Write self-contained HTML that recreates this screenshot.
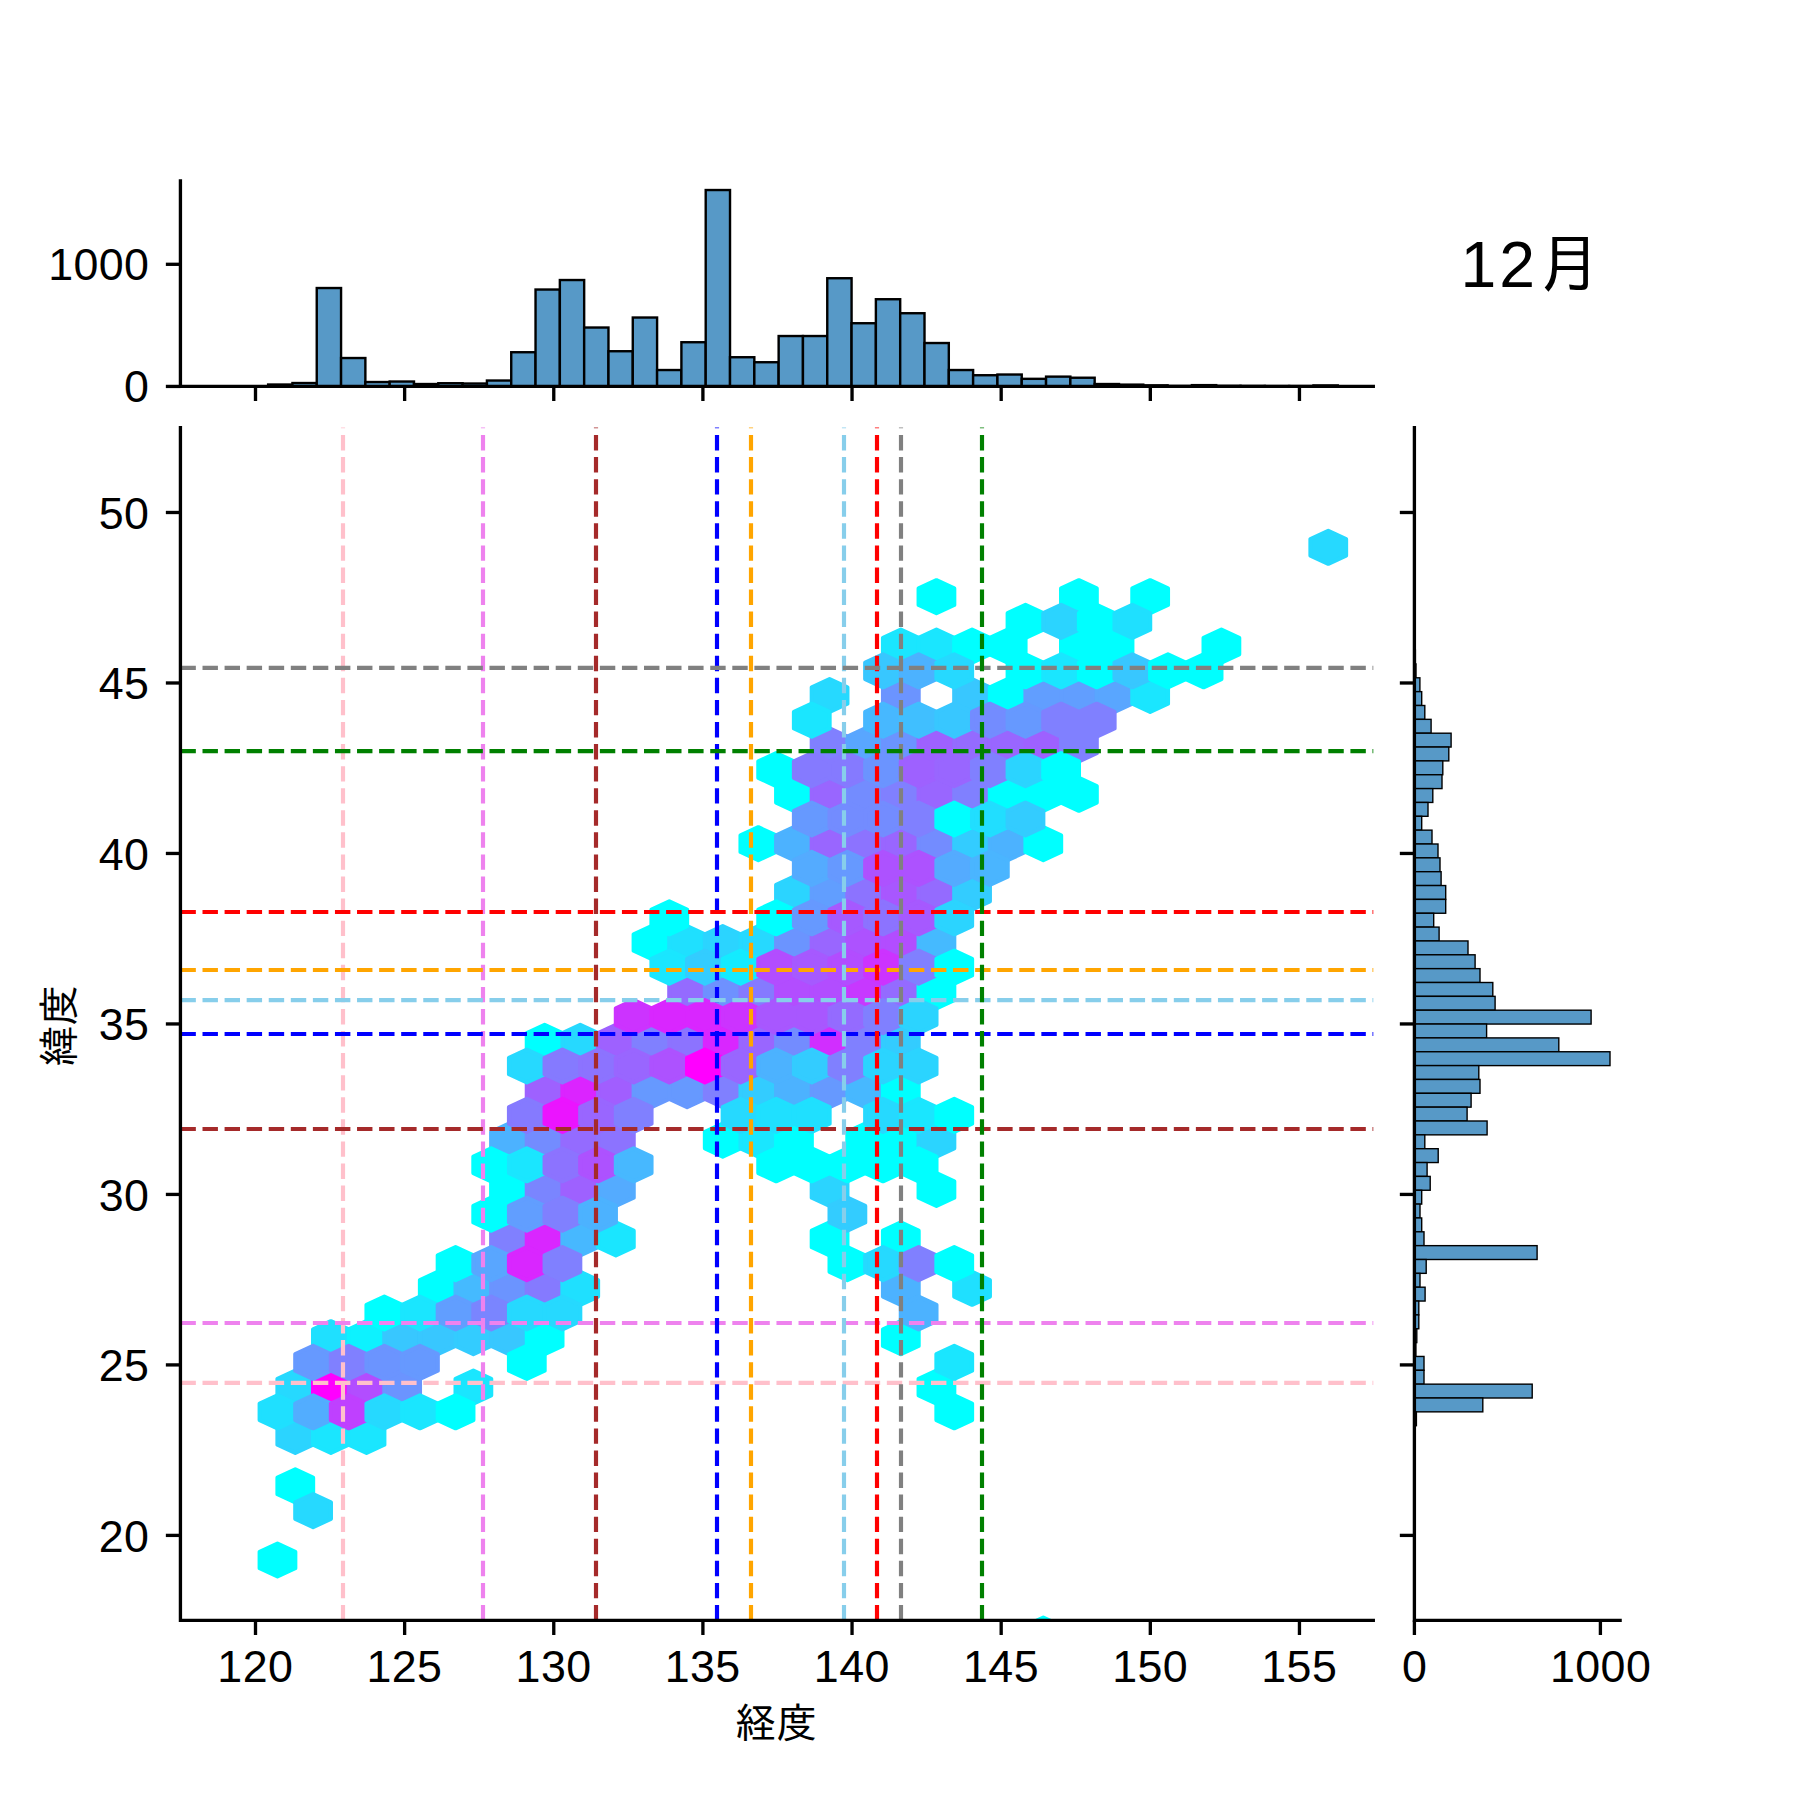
<!DOCTYPE html>
<html lang="ja"><head><meta charset="utf-8"><title>12月</title>
<style>html,body{margin:0;padding:0;background:#fff}svg{display:block}</style></head>
<body>
<svg width="1800" height="1800" viewBox="0 0 1800 1800">
<g fill="#5799c7" stroke="#000" stroke-width="2.40" stroke-linejoin="miter">
<rect x="268.13" y="384.53" width="24.31" height="1.90"/>
<rect x="292.44" y="383.03" width="24.31" height="3.40"/>
<rect x="316.75" y="288.03" width="24.31" height="98.40"/>
<rect x="341.06" y="358.03" width="24.31" height="28.40"/>
<rect x="365.37" y="382.03" width="24.31" height="4.40"/>
<rect x="389.68" y="381.53" width="24.31" height="4.90"/>
<rect x="413.99" y="384.03" width="24.31" height="2.40"/>
<rect x="438.30" y="383.23" width="24.31" height="3.20"/>
<rect x="462.61" y="383.53" width="24.31" height="2.90"/>
<rect x="486.92" y="380.53" width="24.31" height="5.90"/>
<rect x="511.23" y="352.23" width="24.31" height="34.20"/>
<rect x="535.54" y="289.53" width="24.31" height="96.90"/>
<rect x="559.85" y="280.03" width="24.31" height="106.40"/>
<rect x="584.16" y="327.53" width="24.31" height="58.90"/>
<rect x="608.47" y="351.23" width="24.31" height="35.20"/>
<rect x="632.78" y="317.53" width="24.31" height="68.90"/>
<rect x="657.09" y="370.03" width="24.31" height="16.40"/>
<rect x="681.40" y="342.23" width="24.31" height="44.20"/>
<rect x="705.71" y="190.03" width="24.31" height="196.40"/>
<rect x="730.02" y="357.23" width="24.31" height="29.20"/>
<rect x="754.33" y="362.23" width="24.31" height="24.20"/>
<rect x="778.64" y="336.03" width="24.31" height="50.40"/>
<rect x="802.95" y="336.03" width="24.31" height="50.40"/>
<rect x="827.26" y="278.23" width="24.31" height="108.20"/>
<rect x="851.57" y="323.23" width="24.31" height="63.20"/>
<rect x="875.88" y="299.23" width="24.31" height="87.20"/>
<rect x="900.19" y="313.23" width="24.31" height="73.20"/>
<rect x="924.50" y="343.03" width="24.31" height="43.40"/>
<rect x="948.81" y="370.03" width="24.31" height="16.40"/>
<rect x="973.12" y="375.23" width="24.31" height="11.20"/>
<rect x="997.43" y="374.53" width="24.31" height="11.90"/>
<rect x="1021.74" y="378.83" width="24.31" height="7.60"/>
<rect x="1046.05" y="376.63" width="24.31" height="9.80"/>
<rect x="1070.36" y="377.73" width="24.31" height="8.70"/>
<rect x="1094.67" y="384.03" width="24.31" height="2.40"/>
<rect x="1118.98" y="384.63" width="24.31" height="1.80"/>
<rect x="1143.29" y="385.33" width="24.31" height="1.10"/>
<rect x="1167.60" y="385.93" width="24.31" height="0.50"/>
<rect x="1191.91" y="385.13" width="24.31" height="1.30"/>
<rect x="1216.22" y="385.83" width="24.31" height="0.60"/>
<rect x="1240.53" y="385.93" width="24.31" height="0.50"/>
<rect x="1264.84" y="386.03" width="24.31" height="0.40"/>
<rect x="1289.15" y="386.03" width="24.31" height="0.40"/>
<rect x="1313.46" y="385.43" width="24.31" height="1.00"/>
</g>
<g fill="#5799c7" stroke="#000" stroke-width="1.40" stroke-linejoin="miter">
<rect x="1414.40" y="650.10" width="1.00" height="13.85"/>
<rect x="1414.40" y="663.95" width="1.60" height="13.85"/>
<rect x="1414.40" y="677.80" width="5.50" height="13.85"/>
<rect x="1414.40" y="691.65" width="7.30" height="13.85"/>
<rect x="1414.40" y="705.50" width="10.40" height="13.85"/>
<rect x="1414.40" y="719.35" width="16.70" height="13.85"/>
<rect x="1414.40" y="733.20" width="36.70" height="13.85"/>
<rect x="1414.40" y="747.05" width="34.40" height="13.85"/>
<rect x="1414.40" y="760.90" width="28.40" height="13.85"/>
<rect x="1414.40" y="774.75" width="27.60" height="13.85"/>
<rect x="1414.40" y="788.60" width="18.40" height="13.85"/>
<rect x="1414.40" y="802.45" width="13.60" height="13.85"/>
<rect x="1414.40" y="816.30" width="7.30" height="13.85"/>
<rect x="1414.40" y="830.15" width="17.60" height="13.85"/>
<rect x="1414.40" y="844.00" width="23.60" height="13.85"/>
<rect x="1414.40" y="857.85" width="25.60" height="13.85"/>
<rect x="1414.40" y="871.70" width="26.70" height="13.85"/>
<rect x="1414.40" y="885.55" width="31.30" height="13.85"/>
<rect x="1414.40" y="899.40" width="31.30" height="13.85"/>
<rect x="1414.40" y="913.25" width="19.30" height="13.85"/>
<rect x="1414.40" y="927.10" width="24.70" height="13.85"/>
<rect x="1414.40" y="940.95" width="53.60" height="13.85"/>
<rect x="1414.40" y="954.80" width="60.70" height="13.85"/>
<rect x="1414.40" y="968.65" width="65.60" height="13.85"/>
<rect x="1414.40" y="982.50" width="78.40" height="13.85"/>
<rect x="1414.40" y="996.35" width="80.70" height="13.85"/>
<rect x="1414.40" y="1010.20" width="176.70" height="13.85"/>
<rect x="1414.40" y="1024.05" width="72.20" height="13.85"/>
<rect x="1414.40" y="1037.90" width="144.40" height="13.85"/>
<rect x="1414.40" y="1051.75" width="195.60" height="13.85"/>
<rect x="1414.40" y="1065.60" width="64.40" height="13.85"/>
<rect x="1414.40" y="1079.45" width="65.60" height="13.85"/>
<rect x="1414.40" y="1093.30" width="56.70" height="13.85"/>
<rect x="1414.40" y="1107.15" width="52.70" height="13.85"/>
<rect x="1414.40" y="1121.00" width="72.70" height="13.85"/>
<rect x="1414.40" y="1134.85" width="10.40" height="13.85"/>
<rect x="1414.40" y="1148.70" width="23.80" height="13.85"/>
<rect x="1414.40" y="1162.55" width="12.70" height="13.85"/>
<rect x="1414.40" y="1176.40" width="15.80" height="13.85"/>
<rect x="1414.40" y="1190.25" width="7.30" height="13.85"/>
<rect x="1414.40" y="1204.10" width="5.60" height="13.85"/>
<rect x="1414.40" y="1217.95" width="7.30" height="13.85"/>
<rect x="1414.40" y="1231.80" width="9.60" height="13.85"/>
<rect x="1414.40" y="1245.65" width="122.70" height="13.85"/>
<rect x="1414.40" y="1259.50" width="11.80" height="13.85"/>
<rect x="1414.40" y="1273.35" width="5.60" height="13.85"/>
<rect x="1414.40" y="1287.20" width="10.70" height="13.85"/>
<rect x="1414.40" y="1301.05" width="4.40" height="13.85"/>
<rect x="1414.40" y="1314.90" width="4.40" height="13.85"/>
<rect x="1414.40" y="1328.75" width="2.40" height="13.85"/>
<rect x="1414.40" y="1342.60" width="1.50" height="13.85"/>
<rect x="1414.40" y="1356.45" width="9.60" height="13.85"/>
<rect x="1414.40" y="1370.30" width="9.60" height="13.85"/>
<rect x="1414.40" y="1384.15" width="117.80" height="13.85"/>
<rect x="1414.40" y="1398.00" width="68.40" height="13.85"/>
<rect x="1414.40" y="1411.85" width="2.00" height="13.85"/>
</g>
<defs><clipPath id="mc"><rect x="180.43" y="427.57" width="1192.87" height="1192.83"/></clipPath>
</defs>
<g clip-path="url(#mc)" stroke-width="4.17" stroke-linejoin="round">
<polygon points="295.28,1469.43 313.09,1477.67 313.09,1494.13 295.28,1502.37 277.47,1494.13 277.47,1477.67" fill="#00ffff" stroke="#00ffff"/>
<polygon points="295.28,1420.03 313.09,1428.27 313.09,1444.73 295.28,1452.97 277.47,1444.73 277.47,1428.27" fill="#2bd4ff" stroke="#2bd4ff"/>
<polygon points="295.28,1370.63 313.09,1378.87 313.09,1395.33 295.28,1403.57 277.47,1395.33 277.47,1378.87" fill="#26d9ff" stroke="#26d9ff"/>
<polygon points="330.90,1420.03 348.71,1428.27 348.71,1444.73 330.90,1452.97 313.09,1444.73 313.09,1428.27" fill="#1ae6ff" stroke="#1ae6ff"/>
<polygon points="330.90,1370.63 348.71,1378.87 348.71,1395.33 330.90,1403.57 313.09,1395.33 313.09,1378.87" fill="#ff00ff" stroke="#ff00ff"/>
<polygon points="330.90,1321.23 348.71,1329.47 348.71,1345.93 330.90,1354.17 313.09,1345.93 313.09,1329.47" fill="#1fe0ff" stroke="#1fe0ff"/>
<polygon points="366.52,1420.03 384.33,1428.27 384.33,1444.73 366.52,1452.97 348.71,1444.73 348.71,1428.27" fill="#1ae6ff" stroke="#1ae6ff"/>
<polygon points="366.52,1370.63 384.33,1378.87 384.33,1395.33 366.52,1403.57 348.71,1395.33 348.71,1378.87" fill="#b24dff" stroke="#b24dff"/>
<polygon points="366.52,1321.23 384.33,1329.47 384.33,1345.93 366.52,1354.17 348.71,1345.93 348.71,1329.47" fill="#0df2ff" stroke="#0df2ff"/>
<polygon points="402.14,1370.63 419.95,1378.87 419.95,1395.33 402.14,1403.57 384.33,1395.33 384.33,1378.87" fill="#6b94ff" stroke="#6b94ff"/>
<polygon points="402.14,1321.23 419.95,1329.47 419.95,1345.93 402.14,1354.17 384.33,1345.93 384.33,1329.47" fill="#38c7ff" stroke="#38c7ff"/>
<polygon points="437.76,1321.23 455.57,1329.47 455.57,1345.93 437.76,1354.17 419.95,1345.93 419.95,1329.47" fill="#38c7ff" stroke="#38c7ff"/>
<polygon points="437.76,1271.83 455.57,1280.07 455.57,1296.53 437.76,1304.77 419.95,1296.53 419.95,1280.07" fill="#00ffff" stroke="#00ffff"/>
<polygon points="473.38,1370.63 491.19,1378.87 491.19,1395.33 473.38,1403.57 455.57,1395.33 455.57,1378.87" fill="#1ae6ff" stroke="#1ae6ff"/>
<polygon points="473.38,1321.23 491.19,1329.47 491.19,1345.93 473.38,1354.17 455.57,1345.93 455.57,1329.47" fill="#33ccff" stroke="#33ccff"/>
<polygon points="473.38,1271.83 491.19,1280.07 491.19,1296.53 473.38,1304.77 455.57,1296.53 455.57,1280.07" fill="#45baff" stroke="#45baff"/>
<polygon points="509.00,1321.23 526.81,1329.47 526.81,1345.93 509.00,1354.17 491.19,1345.93 491.19,1329.47" fill="#38c7ff" stroke="#38c7ff"/>
<polygon points="509.00,1271.83 526.81,1280.07 526.81,1296.53 509.00,1304.77 491.19,1296.53 491.19,1280.07" fill="#6b94ff" stroke="#6b94ff"/>
<polygon points="509.00,1222.43 526.81,1230.67 526.81,1247.13 509.00,1255.37 491.19,1247.13 491.19,1230.67" fill="#8080ff" stroke="#8080ff"/>
<polygon points="509.00,1173.03 526.81,1181.27 526.81,1197.73 509.00,1205.97 491.19,1197.73 491.19,1181.27" fill="#00ffff" stroke="#00ffff"/>
<polygon points="509.00,1123.63 526.81,1131.87 526.81,1148.33 509.00,1156.57 491.19,1148.33 491.19,1131.87" fill="#4cb2ff" stroke="#4cb2ff"/>
<polygon points="544.62,1321.23 562.43,1329.47 562.43,1345.93 544.62,1354.17 526.81,1345.93 526.81,1329.47" fill="#00ffff" stroke="#00ffff"/>
<polygon points="544.62,1271.83 562.43,1280.07 562.43,1296.53 544.62,1304.77 526.81,1296.53 526.81,1280.07" fill="#857aff" stroke="#857aff"/>
<polygon points="544.62,1222.43 562.43,1230.67 562.43,1247.13 544.62,1255.37 526.81,1247.13 526.81,1230.67" fill="#d926ff" stroke="#d926ff"/>
<polygon points="544.62,1173.03 562.43,1181.27 562.43,1197.73 544.62,1205.97 526.81,1197.73 526.81,1181.27" fill="#7a85ff" stroke="#7a85ff"/>
<polygon points="544.62,1123.63 562.43,1131.87 562.43,1148.33 544.62,1156.57 526.81,1148.33 526.81,1131.87" fill="#738cff" stroke="#738cff"/>
<polygon points="544.62,1074.23 562.43,1082.47 562.43,1098.93 544.62,1107.17 526.81,1098.93 526.81,1082.47" fill="#9e61ff" stroke="#9e61ff"/>
<polygon points="544.62,1024.83 562.43,1033.07 562.43,1049.53 544.62,1057.77 526.81,1049.53 526.81,1033.07" fill="#00ffff" stroke="#00ffff"/>
<polygon points="580.24,1271.83 598.05,1280.07 598.05,1296.53 580.24,1304.77 562.43,1296.53 562.43,1280.07" fill="#1fe0ff" stroke="#1fe0ff"/>
<polygon points="580.24,1222.43 598.05,1230.67 598.05,1247.13 580.24,1255.37 562.43,1247.13 562.43,1230.67" fill="#47b8ff" stroke="#47b8ff"/>
<polygon points="580.24,1173.03 598.05,1181.27 598.05,1197.73 580.24,1205.97 562.43,1197.73 562.43,1181.27" fill="#9e61ff" stroke="#9e61ff"/>
<polygon points="580.24,1123.63 598.05,1131.87 598.05,1148.33 580.24,1156.57 562.43,1148.33 562.43,1131.87" fill="#946bff" stroke="#946bff"/>
<polygon points="580.24,1074.23 598.05,1082.47 598.05,1098.93 580.24,1107.17 562.43,1098.93 562.43,1082.47" fill="#db24ff" stroke="#db24ff"/>
<polygon points="580.24,1024.83 598.05,1033.07 598.05,1049.53 580.24,1057.77 562.43,1049.53 562.43,1033.07" fill="#26d9ff" stroke="#26d9ff"/>
<polygon points="615.86,1222.43 633.67,1230.67 633.67,1247.13 615.86,1255.37 598.05,1247.13 598.05,1230.67" fill="#1ae6ff" stroke="#1ae6ff"/>
<polygon points="615.86,1173.03 633.67,1181.27 633.67,1197.73 615.86,1205.97 598.05,1197.73 598.05,1181.27" fill="#54abff" stroke="#54abff"/>
<polygon points="615.86,1123.63 633.67,1131.87 633.67,1148.33 615.86,1156.57 598.05,1148.33 598.05,1131.87" fill="#8c73ff" stroke="#8c73ff"/>
<polygon points="615.86,1074.23 633.67,1082.47 633.67,1098.93 615.86,1107.17 598.05,1098.93 598.05,1082.47" fill="#a15eff" stroke="#a15eff"/>
<polygon points="615.86,1024.83 633.67,1033.07 633.67,1049.53 615.86,1057.77 598.05,1049.53 598.05,1033.07" fill="#9e61ff" stroke="#9e61ff"/>
<polygon points="651.48,1074.23 669.29,1082.47 669.29,1098.93 651.48,1107.17 633.67,1098.93 633.67,1082.47" fill="#6699ff" stroke="#6699ff"/>
<polygon points="651.48,1024.83 669.29,1033.07 669.29,1049.53 651.48,1057.77 633.67,1049.53 633.67,1033.07" fill="#8080ff" stroke="#8080ff"/>
<polygon points="651.48,926.03 669.29,934.27 669.29,950.73 651.48,958.97 633.67,950.73 633.67,934.27" fill="#00ffff" stroke="#00ffff"/>
<polygon points="687.10,1074.23 704.91,1082.47 704.91,1098.93 687.10,1107.17 669.29,1098.93 669.29,1082.47" fill="#6699ff" stroke="#6699ff"/>
<polygon points="687.10,1024.83 704.91,1033.07 704.91,1049.53 687.10,1057.77 669.29,1049.53 669.29,1033.07" fill="#8c73ff" stroke="#8c73ff"/>
<polygon points="687.10,975.43 704.91,983.67 704.91,1000.13 687.10,1008.37 669.29,1000.13 669.29,983.67" fill="#946bff" stroke="#946bff"/>
<polygon points="687.10,926.03 704.91,934.27 704.91,950.73 687.10,958.97 669.29,950.73 669.29,934.27" fill="#1fe0ff" stroke="#1fe0ff"/>
<polygon points="722.72,1123.63 740.53,1131.87 740.53,1148.33 722.72,1156.57 704.91,1148.33 704.91,1131.87" fill="#00ffff" stroke="#00ffff"/>
<polygon points="722.72,1074.23 740.53,1082.47 740.53,1098.93 722.72,1107.17 704.91,1098.93 704.91,1082.47" fill="#8080ff" stroke="#8080ff"/>
<polygon points="722.72,1024.83 740.53,1033.07 740.53,1049.53 722.72,1057.77 704.91,1049.53 704.91,1033.07" fill="#d926ff" stroke="#d926ff"/>
<polygon points="722.72,975.43 740.53,983.67 740.53,1000.13 722.72,1008.37 704.91,1000.13 704.91,983.67" fill="#6e91ff" stroke="#6e91ff"/>
<polygon points="722.72,926.03 740.53,934.27 740.53,950.73 722.72,958.97 704.91,950.73 704.91,934.27" fill="#2bd4ff" stroke="#2bd4ff"/>
<polygon points="758.34,1123.63 776.15,1131.87 776.15,1148.33 758.34,1156.57 740.53,1148.33 740.53,1131.87" fill="#1ae6ff" stroke="#1ae6ff"/>
<polygon points="758.34,1074.23 776.15,1082.47 776.15,1098.93 758.34,1107.17 740.53,1098.93 740.53,1082.47" fill="#33ccff" stroke="#33ccff"/>
<polygon points="758.34,1024.83 776.15,1033.07 776.15,1049.53 758.34,1057.77 740.53,1049.53 740.53,1033.07" fill="#9966ff" stroke="#9966ff"/>
<polygon points="758.34,975.43 776.15,983.67 776.15,1000.13 758.34,1008.37 740.53,1000.13 740.53,983.67" fill="#857aff" stroke="#857aff"/>
<polygon points="758.34,926.03 776.15,934.27 776.15,950.73 758.34,958.97 740.53,950.73 740.53,934.27" fill="#26d9ff" stroke="#26d9ff"/>
<polygon points="758.34,827.23 776.15,835.47 776.15,851.93 758.34,860.17 740.53,851.93 740.53,835.47" fill="#00ffff" stroke="#00ffff"/>
<polygon points="793.96,1123.63 811.77,1131.87 811.77,1148.33 793.96,1156.57 776.15,1148.33 776.15,1131.87" fill="#00ffff" stroke="#00ffff"/>
<polygon points="793.96,1074.23 811.77,1082.47 811.77,1098.93 793.96,1107.17 776.15,1098.93 776.15,1082.47" fill="#4cb2ff" stroke="#4cb2ff"/>
<polygon points="793.96,1024.83 811.77,1033.07 811.77,1049.53 793.96,1057.77 776.15,1049.53 776.15,1033.07" fill="#738cff" stroke="#738cff"/>
<polygon points="793.96,975.43 811.77,983.67 811.77,1000.13 793.96,1008.37 776.15,1000.13 776.15,983.67" fill="#b24dff" stroke="#b24dff"/>
<polygon points="793.96,926.03 811.77,934.27 811.77,950.73 793.96,958.97 776.15,950.73 776.15,934.27" fill="#6b94ff" stroke="#6b94ff"/>
<polygon points="793.96,876.63 811.77,884.87 811.77,901.33 793.96,909.57 776.15,901.33 776.15,884.87" fill="#2bd4ff" stroke="#2bd4ff"/>
<polygon points="793.96,827.23 811.77,835.47 811.77,851.93 793.96,860.17 776.15,851.93 776.15,835.47" fill="#4cb2ff" stroke="#4cb2ff"/>
<polygon points="793.96,777.83 811.77,786.07 811.77,802.53 793.96,810.77 776.15,802.53 776.15,786.07" fill="#00ffff" stroke="#00ffff"/>
<polygon points="829.58,1222.43 847.39,1230.67 847.39,1247.13 829.58,1255.37 811.77,1247.13 811.77,1230.67" fill="#00ffff" stroke="#00ffff"/>
<polygon points="829.58,1173.03 847.39,1181.27 847.39,1197.73 829.58,1205.97 811.77,1197.73 811.77,1181.27" fill="#2bd4ff" stroke="#2bd4ff"/>
<polygon points="829.58,1074.23 847.39,1082.47 847.39,1098.93 829.58,1107.17 811.77,1098.93 811.77,1082.47" fill="#6699ff" stroke="#6699ff"/>
<polygon points="829.58,1024.83 847.39,1033.07 847.39,1049.53 829.58,1057.77 811.77,1049.53 811.77,1033.07" fill="#d12eff" stroke="#d12eff"/>
<polygon points="829.58,975.43 847.39,983.67 847.39,1000.13 829.58,1008.37 811.77,1000.13 811.77,983.67" fill="#b24dff" stroke="#b24dff"/>
<polygon points="829.58,926.03 847.39,934.27 847.39,950.73 829.58,958.97 811.77,950.73 811.77,934.27" fill="#9966ff" stroke="#9966ff"/>
<polygon points="829.58,876.63 847.39,884.87 847.39,901.33 829.58,909.57 811.77,901.33 811.77,884.87" fill="#619eff" stroke="#619eff"/>
<polygon points="829.58,827.23 847.39,835.47 847.39,851.93 829.58,860.17 811.77,851.93 811.77,835.47" fill="#9966ff" stroke="#9966ff"/>
<polygon points="829.58,777.83 847.39,786.07 847.39,802.53 829.58,810.77 811.77,802.53 811.77,786.07" fill="#9966ff" stroke="#9966ff"/>
<polygon points="829.58,728.43 847.39,736.67 847.39,753.13 829.58,761.37 811.77,753.13 811.77,736.67" fill="#8080ff" stroke="#8080ff"/>
<polygon points="829.58,679.03 847.39,687.27 847.39,703.73 829.58,711.97 811.77,703.73 811.77,687.27" fill="#26d9ff" stroke="#26d9ff"/>
<polygon points="865.20,1123.63 883.01,1131.87 883.01,1148.33 865.20,1156.57 847.39,1148.33 847.39,1131.87" fill="#00ffff" stroke="#00ffff"/>
<polygon points="865.20,1074.23 883.01,1082.47 883.01,1098.93 865.20,1107.17 847.39,1098.93 847.39,1082.47" fill="#47b8ff" stroke="#47b8ff"/>
<polygon points="865.20,1024.83 883.01,1033.07 883.01,1049.53 865.20,1057.77 847.39,1049.53 847.39,1033.07" fill="#8080ff" stroke="#8080ff"/>
<polygon points="865.20,975.43 883.01,983.67 883.01,1000.13 865.20,1008.37 847.39,1000.13 847.39,983.67" fill="#c738ff" stroke="#c738ff"/>
<polygon points="865.20,926.03 883.01,934.27 883.01,950.73 865.20,958.97 847.39,950.73 847.39,934.27" fill="#ad52ff" stroke="#ad52ff"/>
<polygon points="865.20,876.63 883.01,884.87 883.01,901.33 865.20,909.57 847.39,901.33 847.39,884.87" fill="#8c73ff" stroke="#8c73ff"/>
<polygon points="865.20,827.23 883.01,835.47 883.01,851.93 865.20,860.17 847.39,851.93 847.39,835.47" fill="#8c73ff" stroke="#8c73ff"/>
<polygon points="865.20,777.83 883.01,786.07 883.01,802.53 865.20,810.77 847.39,802.53 847.39,786.07" fill="#738cff" stroke="#738cff"/>
<polygon points="865.20,728.43 883.01,736.67 883.01,753.13 865.20,761.37 847.39,753.13 847.39,736.67" fill="#59a6ff" stroke="#59a6ff"/>
<polygon points="900.82,1321.23 918.63,1329.47 918.63,1345.93 900.82,1354.17 883.01,1345.93 883.01,1329.47" fill="#00ffff" stroke="#00ffff"/>
<polygon points="900.82,1271.83 918.63,1280.07 918.63,1296.53 900.82,1304.77 883.01,1296.53 883.01,1280.07" fill="#4cb2ff" stroke="#4cb2ff"/>
<polygon points="900.82,1222.43 918.63,1230.67 918.63,1247.13 900.82,1255.37 883.01,1247.13 883.01,1230.67" fill="#00ffff" stroke="#00ffff"/>
<polygon points="900.82,1123.63 918.63,1131.87 918.63,1148.33 900.82,1156.57 883.01,1148.33 883.01,1131.87" fill="#00ffff" stroke="#00ffff"/>
<polygon points="900.82,1074.23 918.63,1082.47 918.63,1098.93 900.82,1107.17 883.01,1098.93 883.01,1082.47" fill="#00ffff" stroke="#00ffff"/>
<polygon points="900.82,1024.83 918.63,1033.07 918.63,1049.53 900.82,1057.77 883.01,1049.53 883.01,1033.07" fill="#33ccff" stroke="#33ccff"/>
<polygon points="900.82,975.43 918.63,983.67 918.63,1000.13 900.82,1008.37 883.01,1000.13 883.01,983.67" fill="#946bff" stroke="#946bff"/>
<polygon points="900.82,926.03 918.63,934.27 918.63,950.73 900.82,958.97 883.01,950.73 883.01,934.27" fill="#b24dff" stroke="#b24dff"/>
<polygon points="900.82,876.63 918.63,884.87 918.63,901.33 900.82,909.57 883.01,901.33 883.01,884.87" fill="#a857ff" stroke="#a857ff"/>
<polygon points="900.82,827.23 918.63,835.47 918.63,851.93 900.82,860.17 883.01,851.93 883.01,835.47" fill="#9966ff" stroke="#9966ff"/>
<polygon points="900.82,777.83 918.63,786.07 918.63,802.53 900.82,810.77 883.01,802.53 883.01,786.07" fill="#8080ff" stroke="#8080ff"/>
<polygon points="900.82,728.43 918.63,736.67 918.63,753.13 900.82,761.37 883.01,753.13 883.01,736.67" fill="#6b94ff" stroke="#6b94ff"/>
<polygon points="900.82,679.03 918.63,687.27 918.63,703.73 900.82,711.97 883.01,703.73 883.01,687.27" fill="#6b94ff" stroke="#6b94ff"/>
<polygon points="900.82,629.63 918.63,637.87 918.63,654.33 900.82,662.57 883.01,654.33 883.01,637.87" fill="#1ae6ff" stroke="#1ae6ff"/>
<polygon points="936.44,1370.63 954.25,1378.87 954.25,1395.33 936.44,1403.57 918.63,1395.33 918.63,1378.87" fill="#00ffff" stroke="#00ffff"/>
<polygon points="936.44,1173.03 954.25,1181.27 954.25,1197.73 936.44,1205.97 918.63,1197.73 918.63,1181.27" fill="#00ffff" stroke="#00ffff"/>
<polygon points="936.44,1123.63 954.25,1131.87 954.25,1148.33 936.44,1156.57 918.63,1148.33 918.63,1131.87" fill="#2bd4ff" stroke="#2bd4ff"/>
<polygon points="936.44,975.43 954.25,983.67 954.25,1000.13 936.44,1008.37 918.63,1000.13 918.63,983.67" fill="#00ffff" stroke="#00ffff"/>
<polygon points="936.44,926.03 954.25,934.27 954.25,950.73 936.44,958.97 918.63,950.73 918.63,934.27" fill="#45baff" stroke="#45baff"/>
<polygon points="936.44,876.63 954.25,884.87 954.25,901.33 936.44,909.57 918.63,901.33 918.63,884.87" fill="#946bff" stroke="#946bff"/>
<polygon points="936.44,827.23 954.25,835.47 954.25,851.93 936.44,860.17 918.63,851.93 918.63,835.47" fill="#738cff" stroke="#738cff"/>
<polygon points="936.44,777.83 954.25,786.07 954.25,802.53 936.44,810.77 918.63,802.53 918.63,786.07" fill="#9966ff" stroke="#9966ff"/>
<polygon points="936.44,728.43 954.25,736.67 954.25,753.13 936.44,761.37 918.63,753.13 918.63,736.67" fill="#9e61ff" stroke="#9e61ff"/>
<polygon points="936.44,629.63 954.25,637.87 954.25,654.33 936.44,662.57 918.63,654.33 918.63,637.87" fill="#1ae6ff" stroke="#1ae6ff"/>
<polygon points="936.44,580.23 954.25,588.47 954.25,604.93 936.44,613.17 918.63,604.93 918.63,588.47" fill="#00ffff" stroke="#00ffff"/>
<polygon points="972.06,1271.83 989.87,1280.07 989.87,1296.53 972.06,1304.77 954.25,1296.53 954.25,1280.07" fill="#1fe0ff" stroke="#1fe0ff"/>
<polygon points="972.06,876.63 989.87,884.87 989.87,901.33 972.06,909.57 954.25,901.33 954.25,884.87" fill="#33ccff" stroke="#33ccff"/>
<polygon points="972.06,827.23 989.87,835.47 989.87,851.93 972.06,860.17 954.25,851.93 954.25,835.47" fill="#33ccff" stroke="#33ccff"/>
<polygon points="972.06,777.83 989.87,786.07 989.87,802.53 972.06,810.77 954.25,802.53 954.25,786.07" fill="#8080ff" stroke="#8080ff"/>
<polygon points="972.06,728.43 989.87,736.67 989.87,753.13 972.06,761.37 954.25,753.13 954.25,736.67" fill="#946bff" stroke="#946bff"/>
<polygon points="972.06,679.03 989.87,687.27 989.87,703.73 972.06,711.97 954.25,703.73 954.25,687.27" fill="#38c7ff" stroke="#38c7ff"/>
<polygon points="972.06,629.63 989.87,637.87 989.87,654.33 972.06,662.57 954.25,654.33 954.25,637.87" fill="#00ffff" stroke="#00ffff"/>
<polygon points="1007.68,827.23 1025.49,835.47 1025.49,851.93 1007.68,860.17 989.87,851.93 989.87,835.47" fill="#4cb2ff" stroke="#4cb2ff"/>
<polygon points="1007.68,777.83 1025.49,786.07 1025.49,802.53 1007.68,810.77 989.87,802.53 989.87,786.07" fill="#00ffff" stroke="#00ffff"/>
<polygon points="1007.68,728.43 1025.49,736.67 1025.49,753.13 1007.68,761.37 989.87,753.13 989.87,736.67" fill="#9966ff" stroke="#9966ff"/>
<polygon points="1007.68,679.03 1025.49,687.27 1025.49,703.73 1007.68,711.97 989.87,703.73 989.87,687.27" fill="#00ffff" stroke="#00ffff"/>
<polygon points="1007.68,629.63 1025.49,637.87 1025.49,654.33 1007.68,662.57 989.87,654.33 989.87,637.87" fill="#00ffff" stroke="#00ffff"/>
<polygon points="1043.30,1617.63 1061.11,1625.87 1061.11,1642.33 1043.30,1650.57 1025.49,1642.33 1025.49,1625.87" fill="#00ffff" stroke="#00ffff"/>
<polygon points="1043.30,827.23 1061.11,835.47 1061.11,851.93 1043.30,860.17 1025.49,851.93 1025.49,835.47" fill="#00ffff" stroke="#00ffff"/>
<polygon points="1043.30,777.83 1061.11,786.07 1061.11,802.53 1043.30,810.77 1025.49,802.53 1025.49,786.07" fill="#00ffff" stroke="#00ffff"/>
<polygon points="1043.30,728.43 1061.11,736.67 1061.11,753.13 1043.30,761.37 1025.49,753.13 1025.49,736.67" fill="#9e61ff" stroke="#9e61ff"/>
<polygon points="1043.30,679.03 1061.11,687.27 1061.11,703.73 1043.30,711.97 1025.49,703.73 1025.49,687.27" fill="#619eff" stroke="#619eff"/>
<polygon points="1078.92,777.83 1096.73,786.07 1096.73,802.53 1078.92,810.77 1061.11,802.53 1061.11,786.07" fill="#00ffff" stroke="#00ffff"/>
<polygon points="1078.92,728.43 1096.73,736.67 1096.73,753.13 1078.92,761.37 1061.11,753.13 1061.11,736.67" fill="#8080ff" stroke="#8080ff"/>
<polygon points="1078.92,679.03 1096.73,687.27 1096.73,703.73 1078.92,711.97 1061.11,703.73 1061.11,687.27" fill="#619eff" stroke="#619eff"/>
<polygon points="1078.92,629.63 1096.73,637.87 1096.73,654.33 1078.92,662.57 1061.11,654.33 1061.11,637.87" fill="#00ffff" stroke="#00ffff"/>
<polygon points="1078.92,580.23 1096.73,588.47 1096.73,604.93 1078.92,613.17 1061.11,604.93 1061.11,588.47" fill="#00ffff" stroke="#00ffff"/>
<polygon points="1114.54,679.03 1132.35,687.27 1132.35,703.73 1114.54,711.97 1096.73,703.73 1096.73,687.27" fill="#59a6ff" stroke="#59a6ff"/>
<polygon points="1114.54,629.63 1132.35,637.87 1132.35,654.33 1114.54,662.57 1096.73,654.33 1096.73,637.87" fill="#00ffff" stroke="#00ffff"/>
<polygon points="1150.16,679.03 1167.97,687.27 1167.97,703.73 1150.16,711.97 1132.35,703.73 1132.35,687.27" fill="#1ae6ff" stroke="#1ae6ff"/>
<polygon points="1150.16,580.23 1167.97,588.47 1167.97,604.93 1150.16,613.17 1132.35,604.93 1132.35,588.47" fill="#00ffff" stroke="#00ffff"/>
<polygon points="1221.40,629.63 1239.21,637.87 1239.21,654.33 1221.40,662.57 1203.59,654.33 1203.59,637.87" fill="#00ffff" stroke="#00ffff"/>
<polygon points="1328.26,530.83 1346.07,539.07 1346.07,555.53 1328.26,563.77 1310.45,555.53 1310.45,539.07" fill="#26d9ff" stroke="#26d9ff"/>
<polygon points="277.47,1543.53 295.28,1551.77 295.28,1568.23 277.47,1576.47 259.66,1568.23 259.66,1551.77" fill="#00ffff" stroke="#00ffff"/>
<polygon points="277.47,1395.33 295.28,1403.57 295.28,1420.03 277.47,1428.27 259.66,1420.03 259.66,1403.57" fill="#1fe0ff" stroke="#1fe0ff"/>
<polygon points="313.09,1494.13 330.90,1502.37 330.90,1518.83 313.09,1527.07 295.28,1518.83 295.28,1502.37" fill="#26d9ff" stroke="#26d9ff"/>
<polygon points="313.09,1395.33 330.90,1403.57 330.90,1420.03 313.09,1428.27 295.28,1420.03 295.28,1403.57" fill="#52adff" stroke="#52adff"/>
<polygon points="313.09,1345.93 330.90,1354.17 330.90,1370.63 313.09,1378.87 295.28,1370.63 295.28,1354.17" fill="#6699ff" stroke="#6699ff"/>
<polygon points="348.71,1395.33 366.52,1403.57 366.52,1420.03 348.71,1428.27 330.90,1420.03 330.90,1403.57" fill="#bf40ff" stroke="#bf40ff"/>
<polygon points="348.71,1345.93 366.52,1354.17 366.52,1370.63 348.71,1378.87 330.90,1370.63 330.90,1354.17" fill="#8080ff" stroke="#8080ff"/>
<polygon points="384.33,1395.33 402.14,1403.57 402.14,1420.03 384.33,1428.27 366.52,1420.03 366.52,1403.57" fill="#26d9ff" stroke="#26d9ff"/>
<polygon points="384.33,1345.93 402.14,1354.17 402.14,1370.63 384.33,1378.87 366.52,1370.63 366.52,1354.17" fill="#6b94ff" stroke="#6b94ff"/>
<polygon points="384.33,1296.53 402.14,1304.77 402.14,1321.23 384.33,1329.47 366.52,1321.23 366.52,1304.77" fill="#00ffff" stroke="#00ffff"/>
<polygon points="419.95,1395.33 437.76,1403.57 437.76,1420.03 419.95,1428.27 402.14,1420.03 402.14,1403.57" fill="#1ae6ff" stroke="#1ae6ff"/>
<polygon points="419.95,1345.93 437.76,1354.17 437.76,1370.63 419.95,1378.87 402.14,1370.63 402.14,1354.17" fill="#6699ff" stroke="#6699ff"/>
<polygon points="419.95,1296.53 437.76,1304.77 437.76,1321.23 419.95,1329.47 402.14,1321.23 402.14,1304.77" fill="#1ae6ff" stroke="#1ae6ff"/>
<polygon points="455.57,1395.33 473.38,1403.57 473.38,1420.03 455.57,1428.27 437.76,1420.03 437.76,1403.57" fill="#00ffff" stroke="#00ffff"/>
<polygon points="455.57,1296.53 473.38,1304.77 473.38,1321.23 455.57,1329.47 437.76,1321.23 437.76,1304.77" fill="#619eff" stroke="#619eff"/>
<polygon points="455.57,1247.13 473.38,1255.37 473.38,1271.83 455.57,1280.07 437.76,1271.83 437.76,1255.37" fill="#00ffff" stroke="#00ffff"/>
<polygon points="491.19,1296.53 509.00,1304.77 509.00,1321.23 491.19,1329.47 473.38,1321.23 473.38,1304.77" fill="#7a85ff" stroke="#7a85ff"/>
<polygon points="491.19,1247.13 509.00,1255.37 509.00,1271.83 491.19,1280.07 473.38,1271.83 473.38,1255.37" fill="#59a6ff" stroke="#59a6ff"/>
<polygon points="491.19,1197.73 509.00,1205.97 509.00,1222.43 491.19,1230.67 473.38,1222.43 473.38,1205.97" fill="#00ffff" stroke="#00ffff"/>
<polygon points="491.19,1148.33 509.00,1156.57 509.00,1173.03 491.19,1181.27 473.38,1173.03 473.38,1156.57" fill="#00ffff" stroke="#00ffff"/>
<polygon points="526.81,1345.93 544.62,1354.17 544.62,1370.63 526.81,1378.87 509.00,1370.63 509.00,1354.17" fill="#00ffff" stroke="#00ffff"/>
<polygon points="526.81,1296.53 544.62,1304.77 544.62,1321.23 526.81,1329.47 509.00,1321.23 509.00,1304.77" fill="#26d9ff" stroke="#26d9ff"/>
<polygon points="526.81,1247.13 544.62,1255.37 544.62,1271.83 526.81,1280.07 509.00,1271.83 509.00,1255.37" fill="#d926ff" stroke="#d926ff"/>
<polygon points="526.81,1197.73 544.62,1205.97 544.62,1222.43 526.81,1230.67 509.00,1222.43 509.00,1205.97" fill="#619eff" stroke="#619eff"/>
<polygon points="526.81,1148.33 544.62,1156.57 544.62,1173.03 526.81,1181.27 509.00,1173.03 509.00,1156.57" fill="#1ae6ff" stroke="#1ae6ff"/>
<polygon points="526.81,1098.93 544.62,1107.17 544.62,1123.63 526.81,1131.87 509.00,1123.63 509.00,1107.17" fill="#857aff" stroke="#857aff"/>
<polygon points="526.81,1049.53 544.62,1057.77 544.62,1074.23 526.81,1082.47 509.00,1074.23 509.00,1057.77" fill="#26d9ff" stroke="#26d9ff"/>
<polygon points="562.43,1296.53 580.24,1304.77 580.24,1321.23 562.43,1329.47 544.62,1321.23 544.62,1304.77" fill="#26d9ff" stroke="#26d9ff"/>
<polygon points="562.43,1247.13 580.24,1255.37 580.24,1271.83 562.43,1280.07 544.62,1271.83 544.62,1255.37" fill="#8080ff" stroke="#8080ff"/>
<polygon points="562.43,1197.73 580.24,1205.97 580.24,1222.43 562.43,1230.67 544.62,1222.43 544.62,1205.97" fill="#8080ff" stroke="#8080ff"/>
<polygon points="562.43,1148.33 580.24,1156.57 580.24,1173.03 562.43,1181.27 544.62,1173.03 544.62,1156.57" fill="#8c73ff" stroke="#8c73ff"/>
<polygon points="562.43,1098.93 580.24,1107.17 580.24,1123.63 562.43,1131.87 544.62,1123.63 544.62,1107.17" fill="#eb14ff" stroke="#eb14ff"/>
<polygon points="562.43,1049.53 580.24,1057.77 580.24,1074.23 562.43,1082.47 544.62,1074.23 544.62,1057.77" fill="#857aff" stroke="#857aff"/>
<polygon points="598.05,1197.73 615.86,1205.97 615.86,1222.43 598.05,1230.67 580.24,1222.43 580.24,1205.97" fill="#4cb2ff" stroke="#4cb2ff"/>
<polygon points="598.05,1148.33 615.86,1156.57 615.86,1173.03 598.05,1181.27 580.24,1173.03 580.24,1156.57" fill="#ad52ff" stroke="#ad52ff"/>
<polygon points="598.05,1098.93 615.86,1107.17 615.86,1123.63 598.05,1131.87 580.24,1123.63 580.24,1107.17" fill="#9966ff" stroke="#9966ff"/>
<polygon points="598.05,1049.53 615.86,1057.77 615.86,1074.23 598.05,1082.47 580.24,1074.23 580.24,1057.77" fill="#8c73ff" stroke="#8c73ff"/>
<polygon points="633.67,1148.33 651.48,1156.57 651.48,1173.03 633.67,1181.27 615.86,1173.03 615.86,1156.57" fill="#47b8ff" stroke="#47b8ff"/>
<polygon points="633.67,1098.93 651.48,1107.17 651.48,1123.63 633.67,1131.87 615.86,1123.63 615.86,1107.17" fill="#8080ff" stroke="#8080ff"/>
<polygon points="633.67,1049.53 651.48,1057.77 651.48,1074.23 633.67,1082.47 615.86,1074.23 615.86,1057.77" fill="#9966ff" stroke="#9966ff"/>
<polygon points="633.67,1000.13 651.48,1008.37 651.48,1024.83 633.67,1033.07 615.86,1024.83 615.86,1008.37" fill="#cc33ff" stroke="#cc33ff"/>
<polygon points="669.29,1049.53 687.10,1057.77 687.10,1074.23 669.29,1082.47 651.48,1074.23 651.48,1057.77" fill="#ad52ff" stroke="#ad52ff"/>
<polygon points="669.29,1000.13 687.10,1008.37 687.10,1024.83 669.29,1033.07 651.48,1024.83 651.48,1008.37" fill="#d926ff" stroke="#d926ff"/>
<polygon points="669.29,950.73 687.10,958.97 687.10,975.43 669.29,983.67 651.48,975.43 651.48,958.97" fill="#1ae6ff" stroke="#1ae6ff"/>
<polygon points="669.29,901.33 687.10,909.57 687.10,926.03 669.29,934.27 651.48,926.03 651.48,909.57" fill="#00ffff" stroke="#00ffff"/>
<polygon points="704.91,1049.53 722.72,1057.77 722.72,1074.23 704.91,1082.47 687.10,1074.23 687.10,1057.77" fill="#ff00ff" stroke="#ff00ff"/>
<polygon points="704.91,1000.13 722.72,1008.37 722.72,1024.83 704.91,1033.07 687.10,1024.83 687.10,1008.37" fill="#d926ff" stroke="#d926ff"/>
<polygon points="704.91,950.73 722.72,958.97 722.72,975.43 704.91,983.67 687.10,975.43 687.10,958.97" fill="#33ccff" stroke="#33ccff"/>
<polygon points="740.53,1098.93 758.34,1107.17 758.34,1123.63 740.53,1131.87 722.72,1123.63 722.72,1107.17" fill="#26d9ff" stroke="#26d9ff"/>
<polygon points="740.53,1049.53 758.34,1057.77 758.34,1074.23 740.53,1082.47 722.72,1074.23 722.72,1057.77" fill="#9966ff" stroke="#9966ff"/>
<polygon points="740.53,1000.13 758.34,1008.37 758.34,1024.83 740.53,1033.07 722.72,1024.83 722.72,1008.37" fill="#cc33ff" stroke="#cc33ff"/>
<polygon points="740.53,950.73 758.34,958.97 758.34,975.43 740.53,983.67 722.72,975.43 722.72,958.97" fill="#14ebff" stroke="#14ebff"/>
<polygon points="776.15,1148.33 793.96,1156.57 793.96,1173.03 776.15,1181.27 758.34,1173.03 758.34,1156.57" fill="#00ffff" stroke="#00ffff"/>
<polygon points="776.15,1098.93 793.96,1107.17 793.96,1123.63 776.15,1131.87 758.34,1123.63 758.34,1107.17" fill="#1fe0ff" stroke="#1fe0ff"/>
<polygon points="776.15,1049.53 793.96,1057.77 793.96,1074.23 776.15,1082.47 758.34,1074.23 758.34,1057.77" fill="#4cb2ff" stroke="#4cb2ff"/>
<polygon points="776.15,1000.13 793.96,1008.37 793.96,1024.83 776.15,1033.07 758.34,1024.83 758.34,1008.37" fill="#a857ff" stroke="#a857ff"/>
<polygon points="776.15,950.73 793.96,958.97 793.96,975.43 776.15,983.67 758.34,975.43 758.34,958.97" fill="#b24dff" stroke="#b24dff"/>
<polygon points="776.15,901.33 793.96,909.57 793.96,926.03 776.15,934.27 758.34,926.03 758.34,909.57" fill="#00ffff" stroke="#00ffff"/>
<polygon points="776.15,753.13 793.96,761.37 793.96,777.83 776.15,786.07 758.34,777.83 758.34,761.37" fill="#00ffff" stroke="#00ffff"/>
<polygon points="811.77,1148.33 829.58,1156.57 829.58,1173.03 811.77,1181.27 793.96,1173.03 793.96,1156.57" fill="#00ffff" stroke="#00ffff"/>
<polygon points="811.77,1098.93 829.58,1107.17 829.58,1123.63 811.77,1131.87 793.96,1123.63 793.96,1107.17" fill="#1fe0ff" stroke="#1fe0ff"/>
<polygon points="811.77,1049.53 829.58,1057.77 829.58,1074.23 811.77,1082.47 793.96,1074.23 793.96,1057.77" fill="#33ccff" stroke="#33ccff"/>
<polygon points="811.77,1000.13 829.58,1008.37 829.58,1024.83 811.77,1033.07 793.96,1024.83 793.96,1008.37" fill="#a857ff" stroke="#a857ff"/>
<polygon points="811.77,950.73 829.58,958.97 829.58,975.43 811.77,983.67 793.96,975.43 793.96,958.97" fill="#a659ff" stroke="#a659ff"/>
<polygon points="811.77,901.33 829.58,909.57 829.58,926.03 811.77,934.27 793.96,926.03 793.96,909.57" fill="#6699ff" stroke="#6699ff"/>
<polygon points="811.77,851.93 829.58,860.17 829.58,876.63 811.77,884.87 793.96,876.63 793.96,860.17" fill="#54abff" stroke="#54abff"/>
<polygon points="811.77,802.53 829.58,810.77 829.58,827.23 811.77,835.47 793.96,827.23 793.96,810.77" fill="#6699ff" stroke="#6699ff"/>
<polygon points="811.77,753.13 829.58,761.37 829.58,777.83 811.77,786.07 793.96,777.83 793.96,761.37" fill="#857aff" stroke="#857aff"/>
<polygon points="811.77,703.73 829.58,711.97 829.58,728.43 811.77,736.67 793.96,728.43 793.96,711.97" fill="#1ae6ff" stroke="#1ae6ff"/>
<polygon points="847.39,1247.13 865.20,1255.37 865.20,1271.83 847.39,1280.07 829.58,1271.83 829.58,1255.37" fill="#00ffff" stroke="#00ffff"/>
<polygon points="847.39,1197.73 865.20,1205.97 865.20,1222.43 847.39,1230.67 829.58,1222.43 829.58,1205.97" fill="#33ccff" stroke="#33ccff"/>
<polygon points="847.39,1148.33 865.20,1156.57 865.20,1173.03 847.39,1181.27 829.58,1173.03 829.58,1156.57" fill="#00ffff" stroke="#00ffff"/>
<polygon points="847.39,1049.53 865.20,1057.77 865.20,1074.23 847.39,1082.47 829.58,1074.23 829.58,1057.77" fill="#8080ff" stroke="#8080ff"/>
<polygon points="847.39,1000.13 865.20,1008.37 865.20,1024.83 847.39,1033.07 829.58,1024.83 829.58,1008.37" fill="#946bff" stroke="#946bff"/>
<polygon points="847.39,950.73 865.20,958.97 865.20,975.43 847.39,983.67 829.58,975.43 829.58,958.97" fill="#b24dff" stroke="#b24dff"/>
<polygon points="847.39,901.33 865.20,909.57 865.20,926.03 847.39,934.27 829.58,926.03 829.58,909.57" fill="#a659ff" stroke="#a659ff"/>
<polygon points="847.39,851.93 865.20,860.17 865.20,876.63 847.39,884.87 829.58,876.63 829.58,860.17" fill="#6699ff" stroke="#6699ff"/>
<polygon points="847.39,802.53 865.20,810.77 865.20,827.23 847.39,835.47 829.58,827.23 829.58,810.77" fill="#738cff" stroke="#738cff"/>
<polygon points="847.39,753.13 865.20,761.37 865.20,777.83 847.39,786.07 829.58,777.83 829.58,761.37" fill="#857aff" stroke="#857aff"/>
<polygon points="883.01,1247.13 900.82,1255.37 900.82,1271.83 883.01,1280.07 865.20,1271.83 865.20,1255.37" fill="#26d9ff" stroke="#26d9ff"/>
<polygon points="883.01,1148.33 900.82,1156.57 900.82,1173.03 883.01,1181.27 865.20,1173.03 865.20,1156.57" fill="#00ffff" stroke="#00ffff"/>
<polygon points="883.01,1098.93 900.82,1107.17 900.82,1123.63 883.01,1131.87 865.20,1123.63 865.20,1107.17" fill="#26d9ff" stroke="#26d9ff"/>
<polygon points="883.01,1049.53 900.82,1057.77 900.82,1074.23 883.01,1082.47 865.20,1074.23 865.20,1057.77" fill="#2bd4ff" stroke="#2bd4ff"/>
<polygon points="883.01,1000.13 900.82,1008.37 900.82,1024.83 883.01,1033.07 865.20,1024.83 865.20,1008.37" fill="#8080ff" stroke="#8080ff"/>
<polygon points="883.01,950.73 900.82,958.97 900.82,975.43 883.01,983.67 865.20,975.43 865.20,958.97" fill="#cc33ff" stroke="#cc33ff"/>
<polygon points="883.01,901.33 900.82,909.57 900.82,926.03 883.01,934.27 865.20,926.03 865.20,909.57" fill="#8c73ff" stroke="#8c73ff"/>
<polygon points="883.01,851.93 900.82,860.17 900.82,876.63 883.01,884.87 865.20,876.63 865.20,860.17" fill="#ad52ff" stroke="#ad52ff"/>
<polygon points="883.01,802.53 900.82,810.77 900.82,827.23 883.01,835.47 865.20,827.23 865.20,810.77" fill="#738cff" stroke="#738cff"/>
<polygon points="883.01,753.13 900.82,761.37 900.82,777.83 883.01,786.07 865.20,777.83 865.20,761.37" fill="#6b94ff" stroke="#6b94ff"/>
<polygon points="883.01,703.73 900.82,711.97 900.82,728.43 883.01,736.67 865.20,728.43 865.20,711.97" fill="#47b8ff" stroke="#47b8ff"/>
<polygon points="883.01,654.33 900.82,662.57 900.82,679.03 883.01,687.27 865.20,679.03 865.20,662.57" fill="#38c7ff" stroke="#38c7ff"/>
<polygon points="918.63,1296.53 936.44,1304.77 936.44,1321.23 918.63,1329.47 900.82,1321.23 900.82,1304.77" fill="#4cb2ff" stroke="#4cb2ff"/>
<polygon points="918.63,1247.13 936.44,1255.37 936.44,1271.83 918.63,1280.07 900.82,1271.83 900.82,1255.37" fill="#8080ff" stroke="#8080ff"/>
<polygon points="918.63,1148.33 936.44,1156.57 936.44,1173.03 918.63,1181.27 900.82,1173.03 900.82,1156.57" fill="#00ffff" stroke="#00ffff"/>
<polygon points="918.63,1098.93 936.44,1107.17 936.44,1123.63 918.63,1131.87 900.82,1123.63 900.82,1107.17" fill="#1ae6ff" stroke="#1ae6ff"/>
<polygon points="918.63,1049.53 936.44,1057.77 936.44,1074.23 918.63,1082.47 900.82,1074.23 900.82,1057.77" fill="#2bd4ff" stroke="#2bd4ff"/>
<polygon points="918.63,1000.13 936.44,1008.37 936.44,1024.83 918.63,1033.07 900.82,1024.83 900.82,1008.37" fill="#2bd4ff" stroke="#2bd4ff"/>
<polygon points="918.63,950.73 936.44,958.97 936.44,975.43 918.63,983.67 900.82,975.43 900.82,958.97" fill="#8080ff" stroke="#8080ff"/>
<polygon points="918.63,901.33 936.44,909.57 936.44,926.03 918.63,934.27 900.82,926.03 900.82,909.57" fill="#a659ff" stroke="#a659ff"/>
<polygon points="918.63,851.93 936.44,860.17 936.44,876.63 918.63,884.87 900.82,876.63 900.82,860.17" fill="#ad52ff" stroke="#ad52ff"/>
<polygon points="918.63,802.53 936.44,810.77 936.44,827.23 918.63,835.47 900.82,827.23 900.82,810.77" fill="#8080ff" stroke="#8080ff"/>
<polygon points="918.63,753.13 936.44,761.37 936.44,777.83 918.63,786.07 900.82,777.83 900.82,761.37" fill="#9e61ff" stroke="#9e61ff"/>
<polygon points="918.63,703.73 936.44,711.97 936.44,728.43 918.63,736.67 900.82,728.43 900.82,711.97" fill="#40bfff" stroke="#40bfff"/>
<polygon points="918.63,654.33 936.44,662.57 936.44,679.03 918.63,687.27 900.82,679.03 900.82,662.57" fill="#4cb2ff" stroke="#4cb2ff"/>
<polygon points="954.25,1395.33 972.06,1403.57 972.06,1420.03 954.25,1428.27 936.44,1420.03 936.44,1403.57" fill="#00ffff" stroke="#00ffff"/>
<polygon points="954.25,1345.93 972.06,1354.17 972.06,1370.63 954.25,1378.87 936.44,1370.63 936.44,1354.17" fill="#1ae6ff" stroke="#1ae6ff"/>
<polygon points="954.25,1247.13 972.06,1255.37 972.06,1271.83 954.25,1280.07 936.44,1271.83 936.44,1255.37" fill="#00ffff" stroke="#00ffff"/>
<polygon points="954.25,1098.93 972.06,1107.17 972.06,1123.63 954.25,1131.87 936.44,1123.63 936.44,1107.17" fill="#00ffff" stroke="#00ffff"/>
<polygon points="954.25,950.73 972.06,958.97 972.06,975.43 954.25,983.67 936.44,975.43 936.44,958.97" fill="#00ffff" stroke="#00ffff"/>
<polygon points="954.25,901.33 972.06,909.57 972.06,926.03 954.25,934.27 936.44,926.03 936.44,909.57" fill="#2bd4ff" stroke="#2bd4ff"/>
<polygon points="954.25,851.93 972.06,860.17 972.06,876.63 954.25,884.87 936.44,876.63 936.44,860.17" fill="#54abff" stroke="#54abff"/>
<polygon points="954.25,802.53 972.06,810.77 972.06,827.23 954.25,835.47 936.44,827.23 936.44,810.77" fill="#00ffff" stroke="#00ffff"/>
<polygon points="954.25,753.13 972.06,761.37 972.06,777.83 954.25,786.07 936.44,777.83 936.44,761.37" fill="#9966ff" stroke="#9966ff"/>
<polygon points="954.25,703.73 972.06,711.97 972.06,728.43 954.25,736.67 936.44,728.43 936.44,711.97" fill="#38c7ff" stroke="#38c7ff"/>
<polygon points="954.25,654.33 972.06,662.57 972.06,679.03 954.25,687.27 936.44,679.03 936.44,662.57" fill="#26d9ff" stroke="#26d9ff"/>
<polygon points="989.87,851.93 1007.68,860.17 1007.68,876.63 989.87,884.87 972.06,876.63 972.06,860.17" fill="#4ab5ff" stroke="#4ab5ff"/>
<polygon points="989.87,802.53 1007.68,810.77 1007.68,827.23 989.87,835.47 972.06,827.23 972.06,810.77" fill="#21deff" stroke="#21deff"/>
<polygon points="989.87,753.13 1007.68,761.37 1007.68,777.83 989.87,786.07 972.06,777.83 972.06,761.37" fill="#8080ff" stroke="#8080ff"/>
<polygon points="989.87,703.73 1007.68,711.97 1007.68,728.43 989.87,736.67 972.06,728.43 972.06,711.97" fill="#738cff" stroke="#738cff"/>
<polygon points="1025.49,802.53 1043.30,810.77 1043.30,827.23 1025.49,835.47 1007.68,827.23 1007.68,810.77" fill="#33ccff" stroke="#33ccff"/>
<polygon points="1025.49,753.13 1043.30,761.37 1043.30,777.83 1025.49,786.07 1007.68,777.83 1007.68,761.37" fill="#2bd4ff" stroke="#2bd4ff"/>
<polygon points="1025.49,703.73 1043.30,711.97 1043.30,728.43 1025.49,736.67 1007.68,728.43 1007.68,711.97" fill="#6699ff" stroke="#6699ff"/>
<polygon points="1025.49,654.33 1043.30,662.57 1043.30,679.03 1025.49,687.27 1007.68,679.03 1007.68,662.57" fill="#00ffff" stroke="#00ffff"/>
<polygon points="1025.49,604.93 1043.30,613.17 1043.30,629.63 1025.49,637.87 1007.68,629.63 1007.68,613.17" fill="#00ffff" stroke="#00ffff"/>
<polygon points="1061.11,753.13 1078.92,761.37 1078.92,777.83 1061.11,786.07 1043.30,777.83 1043.30,761.37" fill="#00ffff" stroke="#00ffff"/>
<polygon points="1061.11,703.73 1078.92,711.97 1078.92,728.43 1061.11,736.67 1043.30,728.43 1043.30,711.97" fill="#8080ff" stroke="#8080ff"/>
<polygon points="1061.11,654.33 1078.92,662.57 1078.92,679.03 1061.11,687.27 1043.30,679.03 1043.30,662.57" fill="#1ae6ff" stroke="#1ae6ff"/>
<polygon points="1061.11,604.93 1078.92,613.17 1078.92,629.63 1061.11,637.87 1043.30,629.63 1043.30,613.17" fill="#2bd4ff" stroke="#2bd4ff"/>
<polygon points="1096.73,703.73 1114.54,711.97 1114.54,728.43 1096.73,736.67 1078.92,728.43 1078.92,711.97" fill="#8080ff" stroke="#8080ff"/>
<polygon points="1096.73,654.33 1114.54,662.57 1114.54,679.03 1096.73,687.27 1078.92,679.03 1078.92,662.57" fill="#00ffff" stroke="#00ffff"/>
<polygon points="1096.73,604.93 1114.54,613.17 1114.54,629.63 1096.73,637.87 1078.92,629.63 1078.92,613.17" fill="#00ffff" stroke="#00ffff"/>
<polygon points="1132.35,654.33 1150.16,662.57 1150.16,679.03 1132.35,687.27 1114.54,679.03 1114.54,662.57" fill="#38c7ff" stroke="#38c7ff"/>
<polygon points="1132.35,604.93 1150.16,613.17 1150.16,629.63 1132.35,637.87 1114.54,629.63 1114.54,613.17" fill="#1fe0ff" stroke="#1fe0ff"/>
<polygon points="1167.97,654.33 1185.78,662.57 1185.78,679.03 1167.97,687.27 1150.16,679.03 1150.16,662.57" fill="#00ffff" stroke="#00ffff"/>
<polygon points="1203.59,654.33 1221.40,662.57 1221.40,679.03 1203.59,687.27 1185.78,679.03 1185.78,662.57" fill="#00ffff" stroke="#00ffff"/>
</g>
<g stroke-width="4.17" stroke-dasharray="15.42 6.655" fill="none">
<line x1="343.00" y1="1620.40" x2="343.00" y2="427.57" stroke="#ffc0cb"/>
<line x1="180.43" y1="1382.90" x2="1373.30" y2="1382.90" stroke="#ffc0cb"/>
<line x1="483.00" y1="1620.40" x2="483.00" y2="427.57" stroke="#ee82ee"/>
<line x1="180.43" y1="1323.00" x2="1373.30" y2="1323.00" stroke="#ee82ee"/>
<line x1="596.00" y1="1620.40" x2="596.00" y2="427.57" stroke="#a52a2a"/>
<line x1="180.43" y1="1129.00" x2="1373.30" y2="1129.00" stroke="#a52a2a"/>
<line x1="717.00" y1="1620.40" x2="717.00" y2="427.57" stroke="#0000ff"/>
<line x1="180.43" y1="1034.00" x2="1373.30" y2="1034.00" stroke="#0000ff"/>
<line x1="751.00" y1="1620.40" x2="751.00" y2="427.57" stroke="#ffa500"/>
<line x1="180.43" y1="970.00" x2="1373.30" y2="970.00" stroke="#ffa500"/>
<line x1="844.00" y1="1620.40" x2="844.00" y2="427.57" stroke="#87ceeb"/>
<line x1="180.43" y1="1000.10" x2="1373.30" y2="1000.10" stroke="#87ceeb"/>
<line x1="877.00" y1="1620.40" x2="877.00" y2="427.57" stroke="#ff0000"/>
<line x1="180.43" y1="912.00" x2="1373.30" y2="912.00" stroke="#ff0000"/>
<line x1="901.00" y1="1620.40" x2="901.00" y2="427.57" stroke="#808080"/>
<line x1="180.43" y1="667.90" x2="1373.30" y2="667.90" stroke="#808080"/>
<line x1="982.00" y1="1620.40" x2="982.00" y2="427.57" stroke="#008000"/>
<line x1="180.43" y1="751.05" x2="1373.30" y2="751.05" stroke="#008000"/>
</g>
<g stroke="#000" stroke-width="3.33" fill="none" stroke-linecap="square">
<path d="M180.43,427.57 V1620.40 H1373.30"/>
<path d="M180.43,180.87 V386.43 H1373.30"/>
<path d="M1414.40,427.57 V1620.40 H1620.10"/>
</g>
<g stroke="#000" stroke-width="3.33" fill="none">
<line x1="255.50" y1="1620.40" x2="255.50" y2="1634.98"/>
<line x1="255.50" y1="386.43" x2="255.50" y2="401.01"/>
<line x1="404.63" y1="1620.40" x2="404.63" y2="1634.98"/>
<line x1="404.63" y1="386.43" x2="404.63" y2="401.01"/>
<line x1="553.77" y1="1620.40" x2="553.77" y2="1634.98"/>
<line x1="553.77" y1="386.43" x2="553.77" y2="401.01"/>
<line x1="702.90" y1="1620.40" x2="702.90" y2="1634.98"/>
<line x1="702.90" y1="386.43" x2="702.90" y2="401.01"/>
<line x1="852.04" y1="1620.40" x2="852.04" y2="1634.98"/>
<line x1="852.04" y1="386.43" x2="852.04" y2="401.01"/>
<line x1="1001.18" y1="1620.40" x2="1001.18" y2="1634.98"/>
<line x1="1001.18" y1="386.43" x2="1001.18" y2="401.01"/>
<line x1="1150.31" y1="1620.40" x2="1150.31" y2="1634.98"/>
<line x1="1150.31" y1="386.43" x2="1150.31" y2="401.01"/>
<line x1="1299.45" y1="1620.40" x2="1299.45" y2="1634.98"/>
<line x1="1299.45" y1="386.43" x2="1299.45" y2="401.01"/>
<line x1="180.43" y1="1535.40" x2="165.85" y2="1535.40"/>
<line x1="1414.40" y1="1535.40" x2="1399.82" y2="1535.40"/>
<line x1="180.43" y1="1364.91" x2="165.85" y2="1364.91"/>
<line x1="1414.40" y1="1364.91" x2="1399.82" y2="1364.91"/>
<line x1="180.43" y1="1194.43" x2="165.85" y2="1194.43"/>
<line x1="1414.40" y1="1194.43" x2="1399.82" y2="1194.43"/>
<line x1="180.43" y1="1023.95" x2="165.85" y2="1023.95"/>
<line x1="1414.40" y1="1023.95" x2="1399.82" y2="1023.95"/>
<line x1="180.43" y1="853.46" x2="165.85" y2="853.46"/>
<line x1="1414.40" y1="853.46" x2="1399.82" y2="853.46"/>
<line x1="180.43" y1="682.98" x2="165.85" y2="682.98"/>
<line x1="1414.40" y1="682.98" x2="1399.82" y2="682.98"/>
<line x1="180.43" y1="512.49" x2="165.85" y2="512.49"/>
<line x1="1414.40" y1="512.49" x2="1399.82" y2="512.49"/>
<line x1="180.43" y1="386.43" x2="165.85" y2="386.43"/>
<line x1="180.43" y1="264.30" x2="165.85" y2="264.30"/>
<line x1="1414.40" y1="1620.40" x2="1414.40" y2="1634.98"/>
<line x1="1600.40" y1="1620.40" x2="1600.40" y2="1634.98"/>
</g>
<g font-family='"Liberation Sans", "IPAGothic", sans-serif' font-size="44.80" fill="#000">
<text x="255.30" y="1682.20" text-anchor="middle" letter-spacing="0.40">120</text>
<text x="404.44" y="1682.20" text-anchor="middle" letter-spacing="0.40">125</text>
<text x="553.57" y="1682.20" text-anchor="middle" letter-spacing="0.40">130</text>
<text x="702.71" y="1682.20" text-anchor="middle" letter-spacing="0.40">135</text>
<text x="851.84" y="1682.20" text-anchor="middle" letter-spacing="0.40">140</text>
<text x="1000.98" y="1682.20" text-anchor="middle" letter-spacing="0.40">145</text>
<text x="1150.11" y="1682.20" text-anchor="middle" letter-spacing="0.40">150</text>
<text x="1299.25" y="1682.20" text-anchor="middle" letter-spacing="0.40">155</text>
<text x="149.40" y="1551.90" text-anchor="end" letter-spacing="0.40">20</text>
<text x="149.40" y="1381.41" text-anchor="end" letter-spacing="0.40">25</text>
<text x="149.40" y="1210.93" text-anchor="end" letter-spacing="0.40">30</text>
<text x="149.40" y="1040.45" text-anchor="end" letter-spacing="0.40">35</text>
<text x="149.40" y="869.96" text-anchor="end" letter-spacing="0.40">40</text>
<text x="149.40" y="699.48" text-anchor="end" letter-spacing="0.40">45</text>
<text x="149.40" y="528.99" text-anchor="end" letter-spacing="0.40">50</text>
<text x="149.40" y="402.43" text-anchor="end" letter-spacing="0.40">0</text>
<text x="149.40" y="280.30" text-anchor="end" letter-spacing="0.40">1000</text>
<text x="1414.60" y="1682.20" text-anchor="middle" letter-spacing="0.40">0</text>
<text x="1600.60" y="1682.20" text-anchor="middle" letter-spacing="0.40">1000</text>
<text x="776.4" y="1737.5" text-anchor="middle" font-size="41.67">経度</text>
<text transform="translate(74.4,1025.4) rotate(-90)" text-anchor="middle" font-size="41.67">緯度</text>
</g>
<text x="1460.5 1499.3 1537.2" y="287" font-size="64.3" font-family='"Liberation Sans", "IPAGothic", sans-serif' fill="#000">12月</text>
</svg>
</body></html>
